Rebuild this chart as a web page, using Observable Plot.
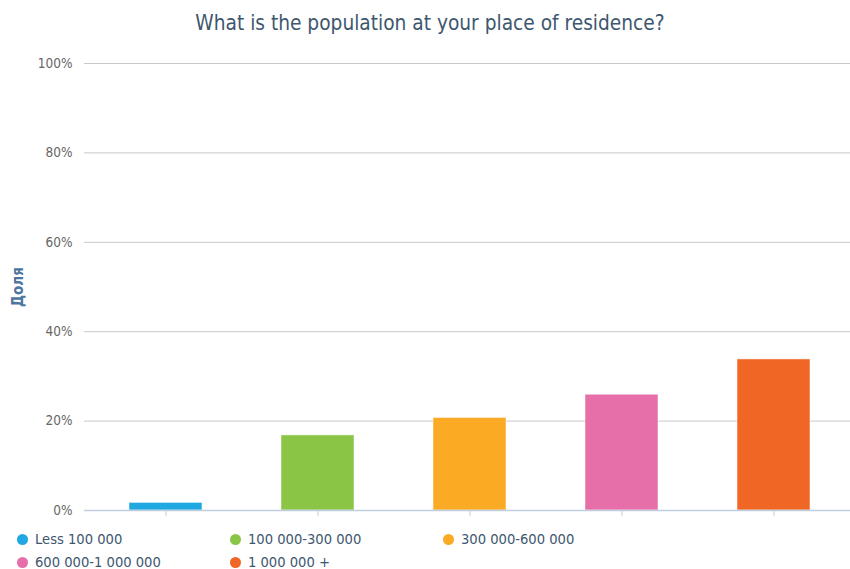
<!DOCTYPE html>
<html>
<head>
<meta charset="utf-8">
<script src="https://cdn.jsdelivr.net/npm/d3@7"></script>
<script src="https://cdn.jsdelivr.net/npm/@observablehq/plot@0.6"></script>
<style>
  body { margin: 0; background: #fff; font-family: "DejaVu Sans Condensed", "Liberation Sans Narrow", "DejaVu Sans", sans-serif; }
  #wrap { width: 850px; height: 569px; position: relative; overflow: hidden; }
  #title { height: 45px; box-sizing: border-box; padding-top: 11px; text-align: center; font-size: 20.7px; color: #3E576F; padding-left: 10px; line-height: 24px; }
  #legend { position: relative; height: 44px; font-size: 14.6px; line-height: 16px; color: #3E576F; }
  .item { position: absolute; display: flex; align-items: center; white-space: nowrap; height: 16px; }
  .dot { width: 11px; height: 11px; border-radius: 50%; margin-right: 7px; }
</style>
</head>
<body>
<div id="wrap">
  <div id="title">What is the population at your place of residence?</div>
  <div id="chart"></div>
  <div id="legend"></div>
</div>
<script>
const categories = ["Less 100 000", "100 000-300 000", "300 000-600 000", "600 000-1 000 000", "1 000 000 +"];
const shares = [1.7, 16.8, 20.7, 25.9, 33.8];
const colors = ["#1fa8e1", "#8bc546", "#fbaa23", "#e66ea9", "#f06624"];
const yTicks = [0, 0.2, 0.4, 0.6, 0.8, 1.0];
const yLabel = "Доля";

const data = categories.map((c, i) => ({category: c, share: shares[i] / 100}));

const chart = Plot.plot({
  width: 850,
  height: 480,
  marginTop: 18,
  marginBottom: 15,
  marginLeft: 84,
  marginRight: 0,
  style: {fontFamily: '"DejaVu Sans Condensed", "Liberation Sans Narrow", "DejaVu Sans", sans-serif', fontSize: "13.5px", background: "white"},
  x: {domain: categories, paddingInner: 0.52, paddingOuter: 0.2756, align: 0.524},
  y: {domain: [0, 1], ticks: yTicks},
  color: {domain: categories, range: colors},
  marks: [
    Plot.ruleY(yTicks.filter(d => d > 0), {stroke: "#c8c8c8", strokeWidth: 1}),
    Plot.axisY({ticks: yTicks, tickFormat: d3.format(".0%"), tickSize: 0, tickPadding: 12, fill: "#666", label: null}),
    Plot.barY(data, {x: "category", y: "share", fill: "category", stroke: "white", strokeOpacity: 0.5, strokeWidth: 1}),
    Plot.ruleY([0], {stroke: "#c0d0e0", strokeWidth: 1.5}),
    Plot.axisX({tickSize: 6, tickFormat: () => "", stroke: "#c0d0e0", label: null}),
    Plot.text([yLabel], {frameAnchor: "left", textAnchor: "middle", rotate: -90, dx: -66, fill: "#4d759e", fontWeight: "bold", fontSize: 15})
  ]
});
document.getElementById("chart").appendChild(chart);

const legend = document.getElementById("legend");
const pos = [[17, 6], [230, 6], [443, 6], [17, 29], [230, 29]];
categories.forEach((c, i) => {
  const el = document.createElement("div");
  el.className = "item";
  el.style.left = pos[i][0] + "px";
  el.style.top = pos[i][1] + "px";
  el.innerHTML = `<span class="dot" style="background:${colors[i]}"></span><span>${c}</span>`;
  legend.appendChild(el);
});
</script>
</body>
</html>
